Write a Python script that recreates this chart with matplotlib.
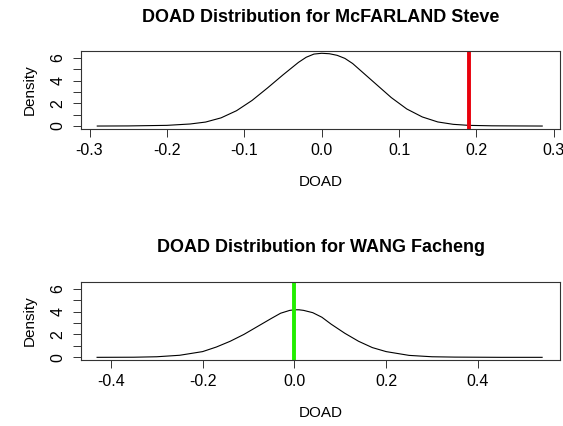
import matplotlib
matplotlib.use("Agg")
import matplotlib.pyplot as plt
from matplotlib.ticker import MultipleLocator, FixedLocator

plt.rcParams['font.family'] = ['Liberation Sans', 'DejaVu Sans']

# DOAD density for McFARLAND Steve
doad_top = [-0.29, -0.25, -0.2, -0.17, -0.15, -0.13, -0.11, -0.09, -0.07, -0.05, -0.04,
            -0.03, -0.02, -0.01, 0.0, 0.01, 0.02, 0.03, 0.04, 0.05, 0.07, 0.09, 0.11,
            0.13, 0.15, 0.17, 0.19, 0.22, 0.25, 0.285]
dens_top = [0.0, 0.01, 0.06, 0.18, 0.35, 0.72, 1.35, 2.25, 3.35, 4.5, 5.05,
            5.6, 6.05, 6.33, 6.4, 6.36, 6.22, 5.95, 5.5, 4.9, 3.7, 2.5, 1.5,
            0.8, 0.36, 0.15, 0.06, 0.02, 0.01, 0.0]
mark_top = 0.19

# DOAD density for WANG Facheng
doad_bot = [-0.43, -0.35, -0.3, -0.25, -0.2, -0.17, -0.14, -0.11, -0.08, -0.05, -0.03,
            -0.01, 0.0, 0.01, 0.02, 0.04, 0.06, 0.08, 0.11, 0.14, 0.17, 0.2, 0.25,
            0.3, 0.35, 0.45, 0.54]
dens_bot = [0.0, 0.01, 0.05, 0.18, 0.5, 0.9, 1.4, 2.0, 2.7, 3.4, 3.85,
            4.1, 4.15, 4.15, 4.1, 3.9, 3.5, 2.9, 2.1, 1.4, 0.85, 0.5, 0.17,
            0.05, 0.02, 0.0, 0.0]
mark_bot = 0.0

panels = [
    dict(name="McFARLAND Steve", x=doad_top, y=dens_top, mark=mark_top, col="#e8000b",
         xlim=(-0.311, 0.308), xticks=[-0.3, -0.2, -0.1, 0.0, 0.1, 0.2, 0.3],
         rect=[0.1439, 0.6972, 0.8508, 0.1836]),
    dict(name="WANG Facheng", x=doad_bot, y=dens_bot, mark=mark_bot, col="#22ee00",
         xlim=(-0.465, 0.579), xticks=[-0.4, -0.2, 0.0, 0.2, 0.4],
         rect=[0.1439, 0.1542, 0.8508, 0.185]),
]

fig = plt.figure(figsize=(5.63, 4.26), dpi=100)

for p in panels:
    ax = fig.add_axes(p["rect"])
    ax.plot(p["x"], p["y"], color="black", lw=0.8)
    ax.axvline(p["mark"], color=p["col"], lw=2.8)
    ax.set_xlim(*p["xlim"])
    ax.set_ylim(-0.26, 6.62)
    ax.xaxis.set_major_locator(FixedLocator(p["xticks"]))
    ax.set_xticklabels(["%.1f" % t for t in p["xticks"]])
    ax.yaxis.set_major_locator(FixedLocator([0, 2, 4, 6]))
    ax.yaxis.set_minor_locator(MultipleLocator(1))
    ax.tick_params(axis="both", which="both", direction="out", length=6, width=0.7,
                   color="#333333", labelsize=11.5)
    ax.tick_params(axis="x", pad=4)
    ax.tick_params(axis="y", pad=5)
    for lab in ax.get_yticklabels():
        lab.set_rotation(90)
        lab.set_va("center")
    for s in ax.spines.values():
        s.set_linewidth(0.8)
        s.set_color("#333333")
    ax.set_title("DOAD Distribution for " + p["name"], fontweight="bold", fontsize=13, pad=21)
    ax.set_xlabel("DOAD", fontsize=11, labelpad=12)
    ax.set_ylabel("Density", fontsize=11, labelpad=10)

fig.savefig("out.png", dpi=100)
